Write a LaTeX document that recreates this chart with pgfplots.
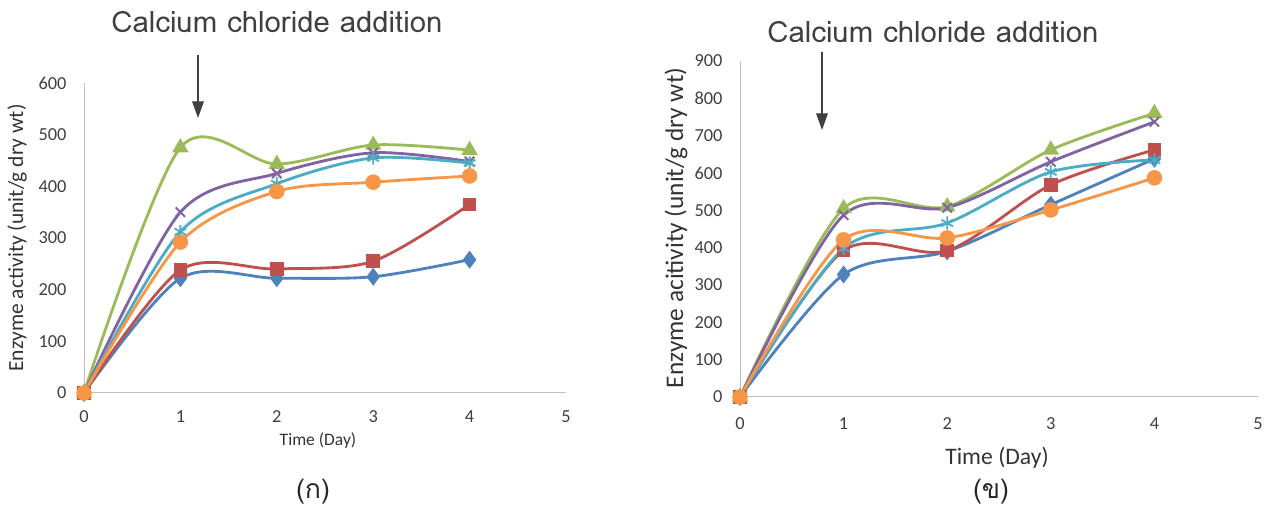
\documentclass[border=0pt]{standalone}
\usepackage{pgfplots}
\pgfplotsset{compat=1.18}
\usepackage{fontspec}
\setmainfont{Carlito}
\newfontfamily\thaifont[Script=Thai]{Loma}
\usetikzlibrary{arrows.meta}
\definecolor{cB}{HTML}{4F81BD}
\definecolor{cR}{HTML}{C0504D}
\definecolor{cG}{HTML}{9BBB59}
\definecolor{cP}{HTML}{8064A2}
\definecolor{cC}{HTML}{4BACC6}
\definecolor{cO}{HTML}{F79646}
\pgfplotsset{
  myax/.style={
    scale only axis, axis lines=left,
    axis line style={gray!50, line width=0.6pt, -},
    xmin=0, xmax=5, ymin=0, xtick={0,1,2,3,4,5},
    major tick length=0pt, tick style={draw=none},
    /pgf/number format/assume math mode=true,
    tick label style={font=\fontsize{11}{12}\selectfont, text=black!75},
    clip=false,
  },
  sB/.style={cB, line width=1.7pt, smooth, mark=diamond*, mark size=4pt, mark options={solid}},
  sR/.style={cR, line width=1.7pt, smooth, mark=square*, mark size=3.2pt, mark options={solid}},
  sG/.style={cG, line width=1.7pt, smooth, mark=triangle*, mark size=4pt, mark options={solid}},
  sP/.style={cP, line width=1.7pt, smooth, mark=x, mark size=4pt, mark options={solid, line width=1.2pt}},
  sC/.style={cC, line width=1.7pt, smooth, mark=asterisk, mark size=4pt, mark options={solid, line width=1.1pt}},
  sO/.style={cO, line width=1.7pt, smooth, mark=*, mark size=3.8pt, mark options={solid}},
}
\begin{document}
\begin{tikzpicture}
\path[use as bounding box] (0pt,0pt) rectangle (765.6pt,306.6pt);
% left panel
\begin{axis}[myax, at={(50.4pt,70.8pt)}, anchor=origin,
  width=289.2pt, height=186pt, ymax=600, ytick={0,100,...,600},
  yticklabel style={xshift=-7pt}, xticklabel style={yshift=-7pt}]
\addplot[sB] coordinates {(0,0) (1,222) (2,222) (3,225) (4,258)};
\addplot[sR] coordinates {(0,0) (1,238) (2,240) (3,255) (4,365)};
\addplot[sG] coordinates {(0,0) (1,475) (2,443) (3,480) (4,470)};
\addplot[sP] coordinates {(0,0) (1,350) (2,425) (3,465) (4,448)};
\addplot[sC] coordinates {(0,0) (1,312) (2,405) (3,455) (4,445)};
\addplot[sO] coordinates {(0,0) (1,292) (2,390) (3,408) (4,420)};
\end{axis}
% right panel
\begin{axis}[myax, at={(444pt,68.4pt)}, anchor=origin,
  width=310.8pt, height=201.6pt, ymax=900, ytick={0,100,...,900},
  yticklabel style={xshift=-7pt}, xticklabel style={yshift=-9pt}]
\addplot[sB] coordinates {(0,0) (1,328) (2,390) (3,515) (4,638)};
\addplot[sR] coordinates {(0,0) (1,392) (2,392) (3,568) (4,662)};
\addplot[sG] coordinates {(0,0) (1,505) (2,510) (3,662) (4,760)};
\addplot[sP] coordinates {(0,0) (1,487) (2,507) (3,630) (4,737)};
\addplot[sC] coordinates {(0,0) (1,398) (2,466) (3,603) (4,635)};
\addplot[sO] coordinates {(0,0) (1,421) (2,426) (3,501) (4,587)};
\end{axis}
\begin{scope}[x=0.6pt, y=0.6pt]
\node[rotate=90, text=black!80, font=\fontsize{12.9}{14}\selectfont] at (17,273) {Enzyme activity (unit/g dry wt)};
\node[rotate=90, text=black!80, font=\fontsize{15.2}{16}\selectfont] at (676,283) {Enzyme acitivity (unit/g dry wt)};
\node[text=black!80, font=\fontsize{10.5}{12}\selectfont] at (318,70) {Time (Day)};
\node[text=black!80, font=\fontsize{14.2}{16}\selectfont] at (997,53) {Time (Day)};
\node[text=black!75, font=\thaifont\fontsize{17.6}{20}\selectfont] at (277,489) {Calcium chloride addition};
\node[text=black!75, font=\thaifont\fontsize{17.6}{20}\selectfont] at (933,479) {Calcium chloride addition};
\draw[black!75, line width=0.8pt, -{Triangle[width=7pt, length=10pt]}] (198,456) -- (198,393);
\draw[black!75, line width=0.8pt, -{Triangle[width=7pt, length=10pt]}] (822,459) -- (822,381);
\node[text=black!85, font=\thaifont\fontsize{16}{18}\selectfont] at (313,19) {(ก)};
\node[text=black!85, font=\thaifont\fontsize{16}{18}\selectfont] at (991,19) {(ข)};
\end{scope}
\end{tikzpicture}
\end{document}
